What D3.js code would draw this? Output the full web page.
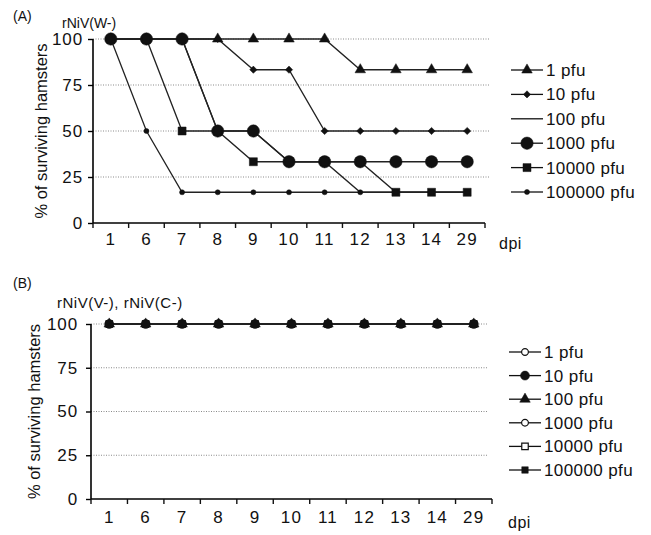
<!DOCTYPE html>
<html>
<head>
<meta charset="utf-8">
<script src="https://cdn.jsdelivr.net/npm/d3@7/dist/d3.min.js"></script>
<style>
  body { margin: 0; background: #fff; }
  svg text { font-family: "Liberation Sans", Arial, sans-serif; fill: #111; }
</style>
</head>
<body>
<div id="content"></div>
<script>
(function(d3) {

   var win_width = 651;
   var win_height = 535;

   // x categories (days post infection) and y ticks
   var days = ["1", "6", "7", "8", "9", "10", "11", "12", "13", "14", "29"];
   var yTicks = [0, 25, 50, 75, 100];
   var doses = ["1 pfu", "10 pfu", "100 pfu", "1000 pfu", "10000 pfu", "100000 pfu"];

   // panel A: rNiV(W-) survival, % per day
   var w1 = [100, 100, 100, 100, 100, 100, 100, 83.3, 83.3, 83.3, 83.3];
   var w10 = [100, 100, 100, 100, 83.3, 83.3, 50, 50, 50, 50, 50];
   var w100 = [100, 100, 100, 50, 50, 33.3, 33.3, 16.7, 16.7, 16.7, 16.7];
   var w1000 = [100, 100, 100, 50, 50, 33.3, 33.3, 33.3, 33.3, 33.3, 33.3];
   var w10000 = [100, 100, 50, 50, 33.3, 33.3, 33.3, 33.3, 16.7, 16.7, 16.7];
   var w100000 = [100, 50, 16.7, 16.7, 16.7, 16.7, 16.7, 16.7, 16.7, 16.7, 16.7];

   // panel B: rNiV(V-), rNiV(C-) survival
   var v1 = [100, 100, 100, 100, 100, 100, 100, 100, 100, 100, 100];
   var v10 = [100, 100, 100, 100, 100, 100, 100, 100, 100, 100, 100];
   var v100 = [100, 100, 100, 100, 100, 100, 100, 100, 100, 100, 100];
   var v1000 = [100, 100, 100, 100, 100, 100, 100, 100, 100, 100, 100];
   var v10000 = [100, 100, 100, 100, 100, 100, 100, 100, 100, 100, 100];
   var v100000 = [100, 100, 100, 100, 100, 100, 100, 100, 100, 100, 100];

   var svg = d3.select("#content")
            .append("svg")
            .attr("width", win_width)
            .attr("height", win_height);

   // marker specs: symbol type, area, filled?
   var markersA = [
      {type: d3.symbolTriangle, size: 48, fill: true},
      {type: d3.symbolSquare, size: 26, fill: true, rotate: 45},
      null,
      {type: d3.symbolCircle, size: 120, fill: true},
      {type: d3.symbolSquare, size: 64, fill: true},
      {type: d3.symbolCircle, size: 20, fill: true}
   ];
   var markersB = [
      {type: d3.symbolCircle, size: 36, fill: false},
      {type: d3.symbolCircle, size: 64, fill: true},
      {type: d3.symbolTriangle, size: 48, fill: true},
      {type: d3.symbolCircle, size: 36, fill: false},
      {type: d3.symbolSquare, size: 42, fill: false},
      {type: d3.symbolSquare, size: 42, fill: true}
   ];

   function marker(sel, m) {
      sel.attr("d", d3.symbol().type(m.type).size(m.size)())
         .style("fill", m.fill ? "#111" : "#fff")
         .style("stroke", "#111")
         .style("stroke-width", m.fill ? 0.5 : 1.2);
   }

   function panel(p) {
      var g = svg.append("g");
      var x = d3.scaleBand().domain(days).range([p.x0, p.x1]);
      var y = d3.scaleLinear().domain([0, 100]).range([p.y0, p.y1]);

      // dotted gridlines
      g.selectAll(".grid").data(yTicks.filter(function(t) { return t > 0; }))
         .enter().append("line")
         .attr("x1", p.x0).attr("x2", p.gridEnd)
         .attr("y1", function(d) { return y(d); })
         .attr("y2", function(d) { return y(d); })
         .style("stroke", "#8a8a8a").style("stroke-width", 1)
         .style("stroke-dasharray", "1,1.5");

      // y axis
      var ya = g.append("g").attr("transform", "translate(" + p.x0 + ",0)")
         .call(d3.axisLeft(y).tickValues(yTicks).tickSize(5).tickPadding(p.yPad));
      ya.select(".domain").attr("d", "M0," + y(100) + "V" + y(0)).style("stroke-width", 1.6);
      ya.selectAll("line").style("stroke-width", 1.4);
      ya.selectAll("text").style("font-size", "17px").style("letter-spacing", "0.9px")
         .style("font-family", "Liberation Sans, Arial, sans-serif");

      // x axis: labels centred in bands, ticks on band edges
      var xa = g.append("g").attr("transform", "translate(0," + p.y0 + ")")
         .call(d3.axisBottom(x).tickSize(0).tickPadding(p.xPad));
      xa.select(".domain").attr("d", "M" + p.x0 + ",0H" + p.x1).style("stroke-width", 1.6);
      xa.selectAll("text").style("font-size", "17px").style("letter-spacing", "1.2px")
         .style("font-family", "Liberation Sans, Arial, sans-serif");
      var edges = days.map(function(d) { return x(d); }).concat([p.x1]);
      g.selectAll(".xtick").data(edges).enter().append("line")
         .attr("x1", function(d) { return d; }).attr("x2", function(d) { return d; })
         .attr("y1", p.y0).attr("y2", p.y0 + 5)
         .style("stroke", "#111").style("stroke-width", 1.4);

      var cx = function(i) { return x(days[i]) + x.bandwidth() / 2; };
      var line = d3.line().x(function(d, i) { return cx(i); }).y(function(d) { return y(d); });

      p.order.forEach(function(k) {
         g.append("path").datum(p.series[k]).attr("d", line)
            .style("fill", "none").style("stroke", "#222").style("stroke-width", 1.3);
      });
      p.order.forEach(function(k) {
         var m = p.markers[k];
         if (!m) return;
         g.selectAll(null).data(p.series[k]).enter().append("path")
            .attr("transform", function(d, i) {
               return "translate(" + cx(i) + "," + y(d) + ")" + (m.rotate ? " rotate(" + m.rotate + ")" : "");
            })
            .call(marker, m);
      });

      // legend
      doses.forEach(function(name, i) {
         var ly = p.legY + i * p.legStep;
         g.append("line").attr("x1", p.legX).attr("x2", p.legX + 32)
            .attr("y1", ly).attr("y2", ly).style("stroke", "#111").style("stroke-width", 1.3);
         var m = p.markers[i];
         if (m) {
            g.append("path").attr("transform", "translate(" + (p.legX + 16) + "," + ly + ")" + (m.rotate ? " rotate(" + m.rotate + ")" : ""))
               .call(marker, m);
         }
         g.append("text").attr("x", p.legX + 35).attr("y", ly).attr("dy", "0.35em")
            .style("font-size", "17px").style("letter-spacing", "0.4px").text(name);
      });

      g.append("text").attr("x", p.dpiX).attr("y", p.dpiY).style("font-size", "16px")
         .style("letter-spacing", "0.5px").text("dpi");
      g.append("text").attr("x", 13).attr("y", p.tagY).style("font-size", "14px").text(p.tag);
      g.append("text").attr("x", p.titleX).attr("y", p.titleY).style("font-size", p.titleSize)
         .style("letter-spacing", p.titleSpacing).text(p.title);
      g.append("text").attr("transform", "translate(" + p.yLabX + "," + ((p.y0 + p.y1) / 2) + ") rotate(-90)")
         .attr("text-anchor", "middle").style("font-size", "16.5px").text("% of surviving hamsters");
   }

   panel({
      x0: 93, x1: 485, y0: 223, y1: 39, gridEnd: 490, yPad: 5, xPad: 10,
      series: [w1, w10, w100, w1000, w10000, w100000], markers: markersA,
      order: [0, 1, 2, 3, 4, 5],
      legX: 511, legY: 70, legStep: 24.4,
      dpiX: 499, dpiY: 249, tag: "(A)", tagY: 21,
      title: "rNiV(W-)", titleX: 62, titleY: 28, titleSize: "14px", titleSpacing: "0px",
      yLabX: 47
   });

   panel({
      x0: 91, x1: 492, y0: 499, y1: 324, gridEnd: 488, yPad: 8, xPad: 12,
      series: [v1, v10, v100, v1000, v10000, v100000], markers: markersB,
      order: [0, 3, 4, 5, 2, 1],
      legX: 509, legY: 352, legStep: 23.6,
      dpiX: 508, dpiY: 528, tag: "(B)", tagY: 288,
      title: "rNiV(V-), rNiV(C-)", titleX: 57, titleY: 308, titleSize: "15px", titleSpacing: "0.5px",
      yLabX: 40
   });

})(window.d3);
</script>
</body>
</html>
